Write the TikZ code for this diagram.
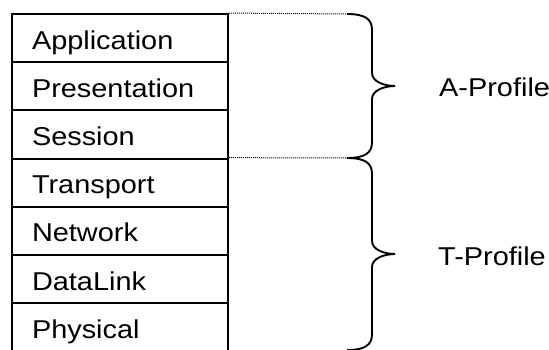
\documentclass[tikz,border=0pt]{standalone}
\usepackage{fontspec}
\newfontfamily\labfont{Liberation Sans}[FakeStretch=1.12]
\begin{document}
\begin{tikzpicture}[x=1pt,y=-1pt,
  row/.style={draw, line width=1.9pt, minimum width=216pt, minimum height=48.2pt,
    text width=176pt, inner xsep=20pt, inner ysep=0pt, align=left,
    text height=25pt, text depth=3.2pt, font=\labfont\fontsize{25.8}{30}\selectfont},
  lab/.style={inner sep=0pt, anchor=base west, font=\labfont\fontsize{25.8}{30}\selectfont},
  guide/.style={line width=1pt, dash pattern=on 1pt off 1pt},
  bracestyle/.style={line width=1.9pt}]
\useasboundingbox (0,0) rectangle (549,349);
\foreach \t [count=\i] in {Application,Presentation,Session,Transport,Network,DataLink,Physical}{
  \node[row] (r\i) at (120,{14+48.2*(\i-0.5)}) {\t};
}
\coordinate (a0) at (347,14);
\coordinate (a1) at (347,158);
\coordinate (b1) at (347,350);
\draw[guide] (r1.north east) -- (a0);
\draw[guide] (r4.north east) -- (a1);
% A brace
\draw[bracestyle] (a0) .. controls (365,14) and (372,19) .. (372,30) -- (372,73)
  .. controls (372,82) and (385,86) .. (395,86)
  .. controls (385,86) and (372,90) .. (372,99) -- (372,142)
  .. controls (372,153) and (365,158) .. (a1);
% T brace
\draw[bracestyle] (a1) .. controls (365,158) and (372,163) .. (372,174) -- (372,241)
  .. controls (372,250) and (385,254) .. (395,254)
  .. controls (385,254) and (372,258) .. (372,267) -- (372,334)
  .. controls (372,345) and (365,350) .. (b1);
\node[lab] (ap) at (439,96.5) {A-Profile};
\node[lab] (tp) at (438,265) {T-Profile};
\end{tikzpicture}
\end{document}
